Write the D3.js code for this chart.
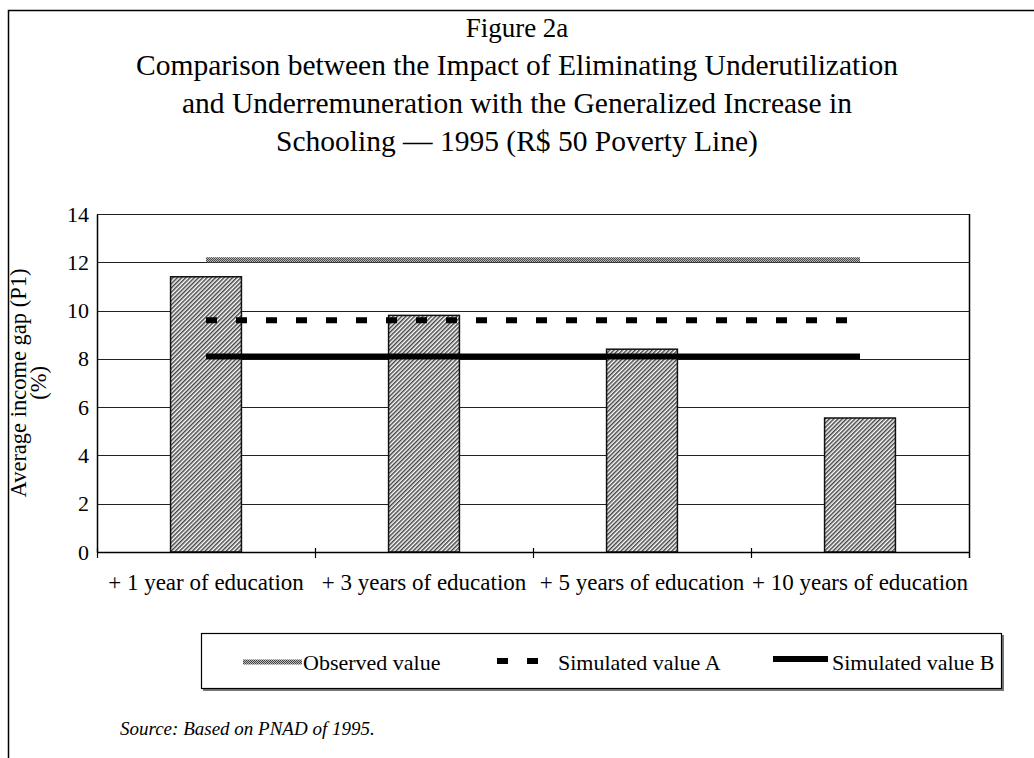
<!DOCTYPE html>
<html>
<head>
<meta charset="utf-8">
<script src="https://cdn.jsdelivr.net/npm/d3@7"></script>
<style>
  body { margin: 0; background: #fff; }
  text { font-family: "Liberation Serif", "Times New Roman", serif; fill: #000; }
</style>
</head>
<body>
<div id="svganchor"></div>
<script>
let width = 1034, height = 758;

let margin = ({top: 214, right: 65, bottom: 206, left: 97});

let categories = ["+ 1 year of education", "+ 3 years of education", "+ 5 years of education", "+ 10 years of education"];
let barValues = [11.4, 9.8, 8.4, 5.55];
let observed = [12.1, 12.1, 12.1, 12.1];
let simulatedA = [9.6, 9.6, 9.6, 9.6];
let simulatedB = [8.1, 8.1, 8.1, 8.1];
let yTicks = [0, 2, 4, 6, 8, 10, 12, 14];
let titleLines = ["Figure 2a",
    "Comparison between the Impact of Eliminating Underutilization",
    "and Underremuneration with the Generalized Increase in",
    "Schooling \u2014 1995 (R$ 50 Poverty Line)"];
let legendLabels = ["Observed value", "Simulated value A", "Simulated value B"];

let svg = d3.select("#svganchor")
    .append("svg")
    .attr("width", width)
    .attr("height", height);

let defs = svg.append("defs");

// fine diagonal hatch for the bars
let hatch = defs.append("pattern")
    .attr("id", "hatch")
    .attr("patternUnits", "userSpaceOnUse")
    .attr("width", 3)
    .attr("height", 3)
    .attr("patternTransform", "rotate(-45)");
hatch.append("rect").attr("width", 3).attr("height", 3).attr("fill", "#fff");
hatch.append("rect").attr("width", 3).attr("height", 1.5).attr("fill", "#444");

// checker for the observed line
let checker = defs.append("pattern")
    .attr("id", "checker")
    .attr("patternUnits", "userSpaceOnUse")
    .attr("width", 2)
    .attr("height", 2);
checker.append("rect").attr("width", 2).attr("height", 2).attr("fill", "#bbb");
checker.append("rect").attr("width", 1).attr("height", 1).attr("fill", "#444");
checker.append("rect").attr("x", 1).attr("y", 1).attr("width", 1).attr("height", 1).attr("fill", "#444");

// page frame
svg.append("rect")
    .attr("x", 8.5).attr("y", 10.5)
    .attr("width", 1100).attr("height", 800)
    .attr("fill", "none")
    .attr("stroke", "#000")
    .attr("stroke-width", 1.5);

// title
svg.append("g")
    .selectAll("text")
    .data(titleLines)
    .enter()
    .append("text")
    .attr("text-anchor", "middle")
    .attr("x", 517)
    .attr("y", function(d, i) { return 37 + i * 38; })
    .attr("font-size", function(d, i) { return i === 0 ? 27 : 29.5; })
    .text(function(d) { return d; });

let xScale = d3.scaleBand()
    .domain(categories)
    .range([margin.left, width - margin.right]);

let yScale = d3.scaleLinear()
    .domain([0, 14])
    .range([height - margin.bottom, margin.top]);

// gridlines
svg.append("g")
    .selectAll("line")
    .data(yTicks.slice(1))
    .enter()
    .append("line")
    .attr("x1", margin.left)
    .attr("x2", width - margin.right)
    .attr("y1", function(d) { return Math.round(yScale(d)) + 0.5; })
    .attr("y2", function(d) { return Math.round(yScale(d)) + 0.5; })
    .attr("stroke", "#222")
    .attr("stroke-width", 1.2);

// right border of the plot
svg.append("line")
    .attr("x1", width - margin.right + 0.5)
    .attr("x2", width - margin.right + 0.5)
    .attr("y1", margin.top)
    .attr("y2", height - margin.bottom + 6)
    .attr("stroke", "#000")
    .attr("stroke-width", 1.5);

// bars
let barW = xScale.bandwidth() * 0.325;
svg.append("g")
    .selectAll("rect")
    .data(barValues)
    .enter()
    .append("rect")
    .attr("x", function(d, i) { return xScale(categories[i]) + (xScale.bandwidth() - barW) / 2; })
    .attr("y", function(d) { return yScale(d); })
    .attr("width", barW)
    .attr("height", function(d) { return yScale(0) - yScale(d); })
    .attr("fill", "url(#hatch)")
    .attr("stroke", "#111")
    .attr("stroke-width", 1.5);

let line = d3.line()
    .x(function(d, i) { return xScale(categories[i]) + xScale.bandwidth() / 2; })
    .y(function(d) { return yScale(d); });

svg.append("path")
    .datum(observed)
    .attr("d", line)
    .attr("fill", "none")
    .attr("stroke", "url(#checker)")
    .attr("stroke-width", 5);

svg.append("path")
    .datum(simulatedA)
    .attr("d", line)
    .attr("fill", "none")
    .attr("stroke", "#000")
    .attr("stroke-width", 6)
    .attr("stroke-dasharray", "11,19");

svg.append("path")
    .datum(simulatedB)
    .attr("d", line)
    .attr("fill", "none")
    .attr("stroke", "#000")
    .attr("stroke-width", 6);

// axes
let yAxis = d3.axisLeft(yScale)
    .tickValues(yTicks)
    .tickSize(0)
    .tickPadding(8);

let gY = svg.append("g")
    .attr("transform", `translate(${margin.left},0)`)
    .call(yAxis);
gY.select(".domain").attr("stroke", "#000").attr("stroke-width", 1.5);
gY.selectAll("text")
    .attr("font-family", "Liberation Serif")
    .attr("font-size", 22)
    .attr("fill", "#000");

let xAxis = d3.axisBottom(xScale)
    .tickSize(0)
    .tickPadding(22);

let gX = svg.append("g")
    .attr("transform", `translate(0,${height - margin.bottom})`)
    .call(xAxis);
gX.select(".domain").attr("stroke", "#000").attr("stroke-width", 1.5);
gX.selectAll("text")
    .attr("font-family", "Liberation Serif")
    .attr("font-size", 23)
    .attr("fill", "#000");

// category separator ticks
svg.append("g")
    .selectAll("line")
    .data(categories)
    .enter()
    .append("line")
    .attr("x1", function(d) { return xScale(d) + 0.5; })
    .attr("x2", function(d) { return xScale(d) + 0.5; })
    .attr("y1", height - margin.bottom - 4)
    .attr("y2", height - margin.bottom + 6)
    .attr("stroke", "#000")
    .attr("stroke-width", 1.2);

// y title
let yTitle = svg.append("text")
    .attr("text-anchor", "middle")
    .attr("transform", "translate(26,383) rotate(-90)")
    .attr("font-size", 22.5);
yTitle.append("tspan").attr("x", 0).attr("dy", 0).text("Average income gap (P1)");
yTitle.append("tspan").attr("x", 0).attr("dy", 20).text("(%)");

// legend
let legend = svg.append("g");
legend.append("rect")
    .attr("x", 203).attr("y", 635)
    .attr("width", 801).attr("height", 56)
    .attr("fill", "#777");
legend.append("rect")
    .attr("x", 201.5).attr("y", 633.5)
    .attr("width", 800).attr("height", 55)
    .attr("fill", "#fff")
    .attr("stroke", "#000")
    .attr("stroke-width", 1.2);

legend.append("line")
    .attr("x1", 243).attr("x2", 302)
    .attr("y1", 662).attr("y2", 662)
    .attr("stroke", "url(#checker)")
    .attr("stroke-width", 5);
legend.append("line")
    .attr("x1", 497).attr("x2", 538)
    .attr("y1", 661).attr("y2", 661)
    .attr("stroke", "#000")
    .attr("stroke-width", 6)
    .attr("stroke-dasharray", "11,19");
legend.append("line")
    .attr("x1", 773).attr("x2", 828)
    .attr("y1", 659).attr("y2", 659)
    .attr("stroke", "#000")
    .attr("stroke-width", 6);

let legendX = [303, 558, 832];
legend.selectAll(".ltext")
    .data(legendLabels)
    .enter()
    .append("text")
    .attr("class", "ltext")
    .attr("x", function(d, i) { return legendX[i]; })
    .attr("y", 670)
    .attr("font-size", 22)
    .text(function(d) { return d; });

// source
svg.append("text")
    .attr("x", 120)
    .attr("y", 735)
    .attr("font-size", 19)
    .attr("font-style", "italic")
    .text("Source: Based on PNAD of 1995.");
</script>
</body>
</html>
